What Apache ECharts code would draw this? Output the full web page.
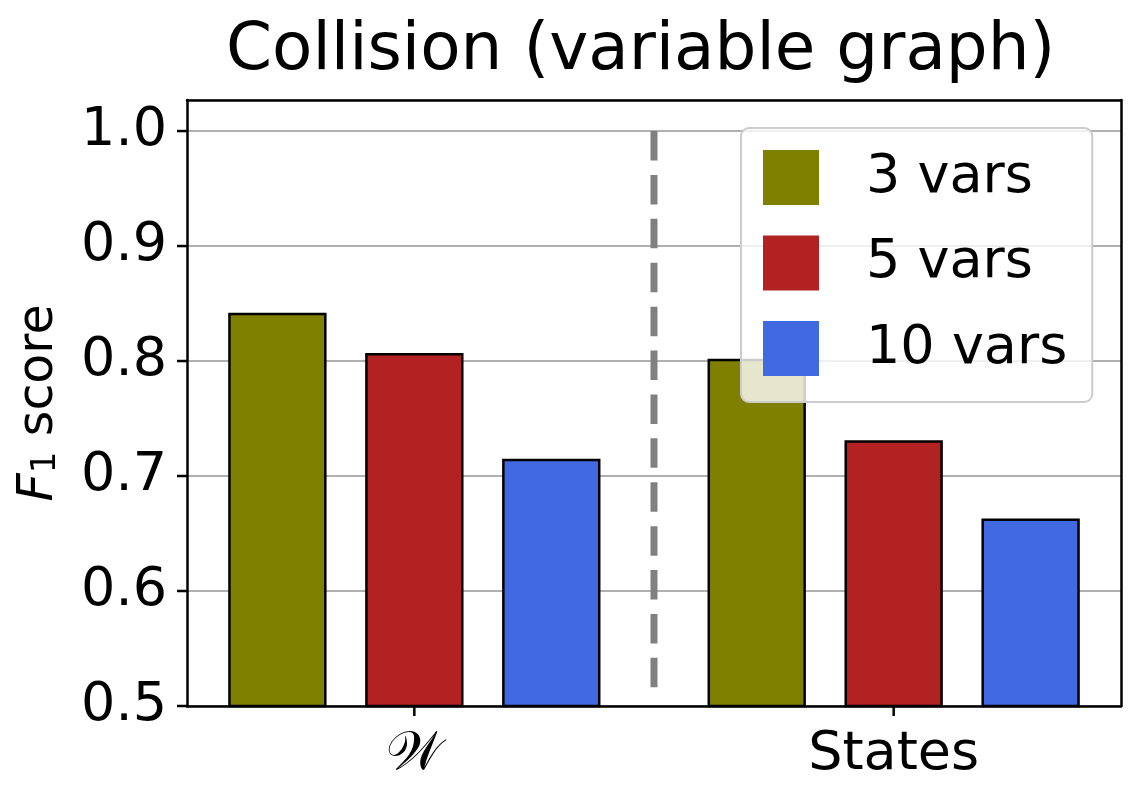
<!DOCTYPE html>
<html>
<head>
<meta charset="utf-8">
<script src="https://cdn.jsdelivr.net/npm/echarts@6/dist/echarts.min.js"></script>
<style>
  html, body { margin: 0; padding: 0; background: #fff; }
  #chart { width: 1141px; height: 800px; }
</style>
</head>
<body>
<div id="chart"></div>
<script>
// data
var groups = ['\u{1D4B2}', 'States'];
var seriesNames = ['3 vars', '5 vars', '10 vars'];
var vars3 = [0.841, 0.801];
var vars5 = [0.806, 0.730];
var vars10 = [0.714, 0.662];
var yTicks = [0.5, 0.6, 0.7, 0.8, 0.9, 1.0];
var dividerRange = [1.0, 0.51];

var colors = ['#808000', '#b22222', '#4169e1'];
var values = [vars3, vars5, vars10];

// bar layout: one unit per bar, groups 3.5 units apart
var GROUP_SPAN = 3.5;
var BAR_W = 0.7;
var FONT = 'DejaVu Sans';
var X_MIN = -0.66, X_MAX = 6.16, Y_MIN = 0.5, Y_MAX = 1.027;
var TICK_LEN = 10;

var myChart = echarts.init(document.getElementById('chart'));

function barItem(params, api) {
    var x = api.value(0);
    var y = api.value(1);
    var top = api.coord([x - BAR_W / 2, y]);
    var bottom = api.coord([x + BAR_W / 2, Y_MIN]);
    return {
        type: 'rect',
        shape: { x: top[0], y: top[1], width: bottom[0] - top[0], height: bottom[1] - top[1] },
        style: { fill: api.visual('color'), stroke: '#000', lineWidth: 2.5 }
    };
}

// outward tick marks on the bottom and left spines
function tickItem(params, api) {
    var p = api.coord([api.value(0), api.value(1)]);
    var horizontal = api.value(2) === 1;
    return {
        type: 'line',
        shape: horizontal
            ? { x1: p[0] - TICK_LEN, y1: p[1], x2: p[0], y2: p[1] }
            : { x1: p[0], y1: p[1], x2: p[0], y2: p[1] + TICK_LEN },
        style: { stroke: '#000', lineWidth: 2.5 }
    };
}

var series = values.map(function (vals, s) {
    return {
        name: seriesNames[s],
        type: 'custom',
        renderItem: barItem,
        itemStyle: { color: colors[s] },
        encode: { x: 0, y: 1 },
        data: vals.map(function (v, g) { return [g * GROUP_SPAN + s, v]; }),
        z: 2
    };
});

var dividerX = (2 + GROUP_SPAN) / 2;
series.push({
    name: 'divider',
    type: 'line',
    symbol: 'none',
    silent: true,
    lineStyle: { color: '#808080', width: 7, type: [29.5, 14.4], cap: 'butt' },
    data: dividerRange.map(function (v) { return [dividerX, v]; }),
    z: 3
});

var groupCenters = groups.map(function (g, i) { return i * GROUP_SPAN + 1; });

series.push({
    name: 'ticks',
    type: 'custom',
    silent: true,
    clip: false,
    renderItem: tickItem,
    encode: { x: 0, y: 1 },
    data: groupCenters.map(function (x) { return [x, Y_MIN, 0]; })
        .concat(yTicks.map(function (y) { return [X_MIN, y, 1]; })),
    z: 5
});

function spine() {
    return { show: true, onZero: false, lineStyle: { color: '#000', width: 2.5 } };
}

var option = {
    animation: false,
    textStyle: { fontFamily: FONT },
    title: {
        text: 'Collision (variable graph)',
        left: 221,
        top: 14,
        textStyle: { fontFamily: FONT, fontSize: 66, fontWeight: 'normal', color: '#000' }
    },
    legend: {
        data: seriesNames,
        orient: 'vertical',
        left: 741,
        top: 128,
        icon: 'rect',
        itemWidth: 56,
        itemHeight: 55,
        itemGap: 30.5,
        padding: [22, 25, 26, 22],
        backgroundColor: 'rgba(255,255,255,0.8)',
        borderColor: '#cccccc',
        borderWidth: 2,
        borderRadius: 8,
        itemStyle: { borderWidth: 0 },
        textStyle: { fontFamily: FONT, fontSize: 54, color: '#000', padding: [0, 0, 0, 42] },
        z: 6
    },
    grid: {
        left: 187,
        right: 20,
        top: 100,
        bottom: 94,
        outerBoundsMode: 'none'
    },
    xAxis: [{
        type: 'value',
        min: X_MIN,
        max: X_MAX,
        splitLine: { show: false },
        axisLine: spine(),
        axisTick: { show: false },
        axisLabel: {
            customValues: groupCenters,
            margin: 22,
            fontFamily: FONT,
            fontSize: 54,
            color: '#000',
            formatter: function (v) { return groups[Math.round((v - 1) / GROUP_SPAN)]; }
        }
    }, {
        type: 'value',
        position: 'top',
        min: X_MIN,
        max: X_MAX,
        splitLine: { show: false },
        axisLine: spine(),
        axisTick: { show: false },
        axisLabel: { show: false }
    }],
    yAxis: [{
        type: 'value',
        min: Y_MIN,
        max: Y_MAX,
        interval: 0.1,
        axisLine: spine(),
        axisTick: { show: false },
        splitLine: { show: true, lineStyle: { color: '#b0b0b0', width: 2 } },
        axisLabel: {
            customValues: yTicks,
            margin: 20,
            fontFamily: FONT,
            fontSize: 54,
            color: '#000',
            formatter: function (v) { return v.toFixed(1); }
        },
        name: '{i|F}{s|1} score',
        nameLocation: 'middle',
        nameRotate: 90,
        nameGap: 123,
        nameTextStyle: {
            fontFamily: FONT,
            fontSize: 49,
            color: '#000',
            rich: {
                i: { fontFamily: FONT, fontSize: 49, fontStyle: 'italic', color: '#000' },
                s: { fontFamily: FONT, fontSize: 34, color: '#000', padding: [14, 0, 0, 0] }
            }
        }
    }, {
        type: 'value',
        position: 'right',
        min: Y_MIN,
        max: Y_MAX,
        axisLine: spine(),
        axisTick: { show: false },
        axisLabel: { show: false },
        splitLine: { show: false }
    }],
    series: series
};

myChart.setOption(option);
</script>
</body>
</html>
